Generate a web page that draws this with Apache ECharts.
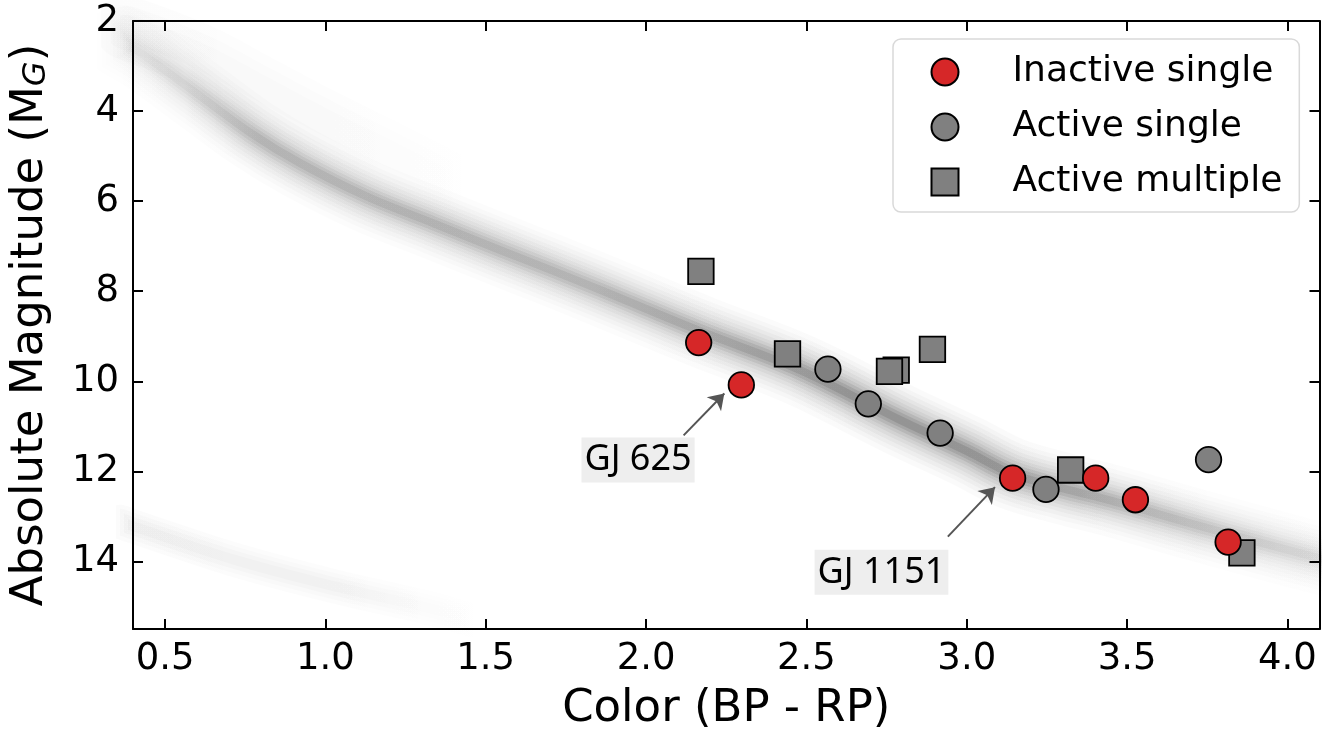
<!DOCTYPE html>
<html><head><meta charset="utf-8">
<script src="https://cdn.jsdelivr.net/npm/echarts@6/dist/echarts.min.js"></script>
<style>html,body{margin:0;padding:0;background:#fff}#c{width:1322px;height:737px}</style>
</head><body><div id="c"></div>
<script>
// ---- data ----
const xTicks = [0.5, 1.0, 1.5, 2.0, 2.5, 3.0, 3.5, 4.0];
const yTicks = [2, 4, 6, 8, 10, 12, 14];
const seriesNames = ['Inactive single', 'Active single', 'Active multiple'];
const inactiveSingle = [[2.164, 9.14], [2.297, 10.08], [3.143, 12.15], [3.402, 12.15], [3.526, 12.63], [3.815, 13.57]];
const activeSingle = [[2.567, 9.73], [2.693, 10.50], [2.917, 11.15], [3.247, 12.40], [3.754, 11.74]];
const activeMultiple = [[2.171, 7.56], [2.441, 9.39], [2.780, 9.75], [2.759, 9.78], [2.893, 9.29], [3.324, 11.97], [3.858, 13.81]];
// ridge of the background Gaia main-sequence density
const mainSequence = [[0.36, 2.45], [0.44, 2.79], [0.61, 3.67], [0.77, 4.50], [0.92, 5.15], [1.13, 5.90], [1.34, 6.50], [1.55, 7.10], [1.70, 7.52], [1.86, 7.98], [2.17, 8.89], [2.48, 9.75], [2.79, 10.85], [3.00, 11.55], [3.14, 12.05], [3.30, 12.38], [3.45, 12.65], [3.72, 13.20], [4.03, 13.80], [4.15, 14.02]];
// faint spread above the upper main sequence
const upperSpread = [[0.38, 2.15], [0.60, 2.75], [0.80, 3.50], [1.00, 4.25], [1.20, 4.95], [1.45, 5.85]];
// white-dwarf sequence (faint, lower left)
const whiteDwarfs = [[0.36, 13.12], [0.40, 13.22], [0.715, 13.96], [1.026, 14.55], [1.337, 15.06], [1.50, 15.40]];
const annotations = [
  { text: 'GJ 625', label: [1.975, 11.75], from: [2.117, 11.20], to: [2.244, 10.27] },
  { text: 'GJ 1151', label: [2.734, 14.24], from: [2.941, 13.45], to: [3.088, 12.35] }
];

// ---- styling helpers ----
const FONT = 'DejaVu Sans';
function grad(a, stops) {
  return { type: 'linear', x: 0, y: 0, x2: 1, y2: 0,
    colorStops: stops.map(s => ({ offset: s[0], color: 'rgba(0,0,0,' + Math.min(1, a * s[1]).toFixed(4) + ')' })) };
}
const msStops = [[0, 0.2], [0.06, 0.45], [0.12, 0.85], [0.244, 0.9], [0.377, 0.85], [0.5, 1.1], [0.6, 1.35], [0.72, 1.3], [0.83, 0.85], [1, 0.35]];
const upStops = [[0, 1], [0.6, 0.7], [1, 0]];
const wdStops = [[0, 1], [0.6, 0.8], [0.85, 0.2], [1, 0]];
function band(data, width, alpha, stops) {
  return { type: 'line', data: data, smooth: 0.35, symbol: 'none', silent: true,
    z: 1, animation: false, legendHoverLink: false, tooltip: { show: false },
    lineStyle: { width: width, color: grad(alpha, stops), cap: 'round', join: 'round' } };
}
const bands = [];
[[72, 0.015], [62, 0.018], [54, 0.022], [46, 0.026], [39, 0.03], [32, 0.035], [26, 0.04], [20, 0.06], [14, 0.07], [8, 0.08]]
  .forEach(l => bands.push(band(mainSequence, l[0], l[1], msStops)));
[[64, 0.01], [44, 0.01], [26, 0.012]].forEach(l => bands.push(band(upperSpread, l[0], l[1], upStops)));
[[34, 0.015], [26, 0.015], [18, 0.02], [10, 0.02]].forEach(l => bands.push(band(whiteDwarfs, l[0], l[1], wdStops)));

function scatter(name, data, symbol, color, z) {
  return { type: 'scatter', name: name, data: data, symbol: symbol, symbolSize: 25.5, z: z,
    itemStyle: { color: color, borderColor: '#000', borderWidth: 1.8, opacity: 1 }, animation: false };
}

const tickStyle = { show: true, inside: true, length: 10, lineStyle: { color: '#000', width: 2 } };
const lineStyle = { show: true, onZero: false, lineStyle: { color: '#000', width: 2 } };

const option = {
  backgroundColor: '#fff',
  animation: false,
  grid: { left: 133, right: 2.5, top: 21, bottom: 102.7, containLabel: false },
  xAxis: [
    { type: 'value', position: 'bottom', min: 0.4, max: 4.1,
      name: 'Color (BP - RP)', nameLocation: 'middle', nameGap: 58,
      nameTextStyle: { fontFamily: FONT, fontSize: 45, color: '#000' },
      axisLine: lineStyle, axisTick: Object.assign({ customValues: xTicks }, tickStyle),
      axisLabel: { customValues: xTicks, formatter: v => v.toFixed(1), fontFamily: FONT, fontSize: 37, color: '#000', margin: 12 },
      splitLine: { show: false } },
    { type: 'value', position: 'top', min: 0.4, max: 4.1,
      axisLine: lineStyle, axisTick: Object.assign({ customValues: xTicks }, tickStyle),
      axisLabel: { show: false }, splitLine: { show: false } }
  ],
  yAxis: [
    { type: 'value', position: 'left', inverse: true, min: 2, max: 15.5,
      name: 'Absolute Magnitude (M{g|G})', nameLocation: 'middle', nameGap: 80, nameRotate: 90,
      nameTextStyle: { fontFamily: FONT, fontSize: 45, color: '#000', lineHeight: 45,
        rich: { g: { fontFamily: FONT, fontSize: 32, fontStyle: 'italic', color: '#000', lineHeight: 20, verticalAlign: 'bottom' } } },
      axisLine: lineStyle, axisTick: Object.assign({ customValues: yTicks }, tickStyle),
      axisLabel: { customValues: yTicks, fontFamily: FONT, fontSize: 37, color: '#000', margin: 14 },
      splitLine: { show: false } },
    { type: 'value', position: 'right', inverse: true, min: 2, max: 15.5,
      axisLine: lineStyle, axisTick: Object.assign({ customValues: yTicks }, tickStyle),
      axisLabel: { show: false }, splitLine: { show: false } }
  ],
  legend: {
    data: seriesNames, orient: 'vertical', left: 893, top: 39,
    padding: [15, 17, 12, 37.5], itemWidth: 27, itemHeight: 27, itemGap: 19,
    backgroundColor: 'rgba(255,255,255,0.8)', borderColor: '#d9d9d9', borderWidth: 1.5, borderRadius: 8,
    textStyle: { fontFamily: FONT, fontSize: 36, color: '#000', lineHeight: 36, padding: [0, 0, 0, 49] },
    selectedMode: false
  },
  series: bands.concat([
    scatter(seriesNames[2], activeMultiple, 'rect', '#808080', 3),
    scatter(seriesNames[1], activeSingle, 'circle', '#808080', 4),
    scatter(seriesNames[0], inactiveSingle, 'circle', '#d62728', 5),
    { type: 'scatter', name: 'annotations', z: 6, symbol: 'circle', symbolSize: 1, silent: true, animation: false,
      itemStyle: { color: 'rgba(0,0,0,0)', borderWidth: 0 },
      data: annotations.map(a => ({ name: a.text, value: a.label })),
      label: { show: true, position: 'inside', formatter: '{b}', fontFamily: 'Noto Sans', fontSize: 36,
        color: '#000', opacity: 1, backgroundColor: '#eeeeee', padding: [2, 3, 2, 3], lineHeight: 41 },
      markLine: { silent: true, animation: false, symbol: ['none', 'arrow'], symbolSize: 15,
        label: { show: false }, lineStyle: { color: '#555', width: 2, type: 'solid', opacity: 1 },
        emphasis: { disabled: true },
        data: annotations.map(a => [{ coord: a.from }, { coord: a.to }]) } }
  ])
};
const chart = echarts.init(document.getElementById('c'), null, { renderer: 'canvas' });
chart.setOption(option);
</script></body></html>
